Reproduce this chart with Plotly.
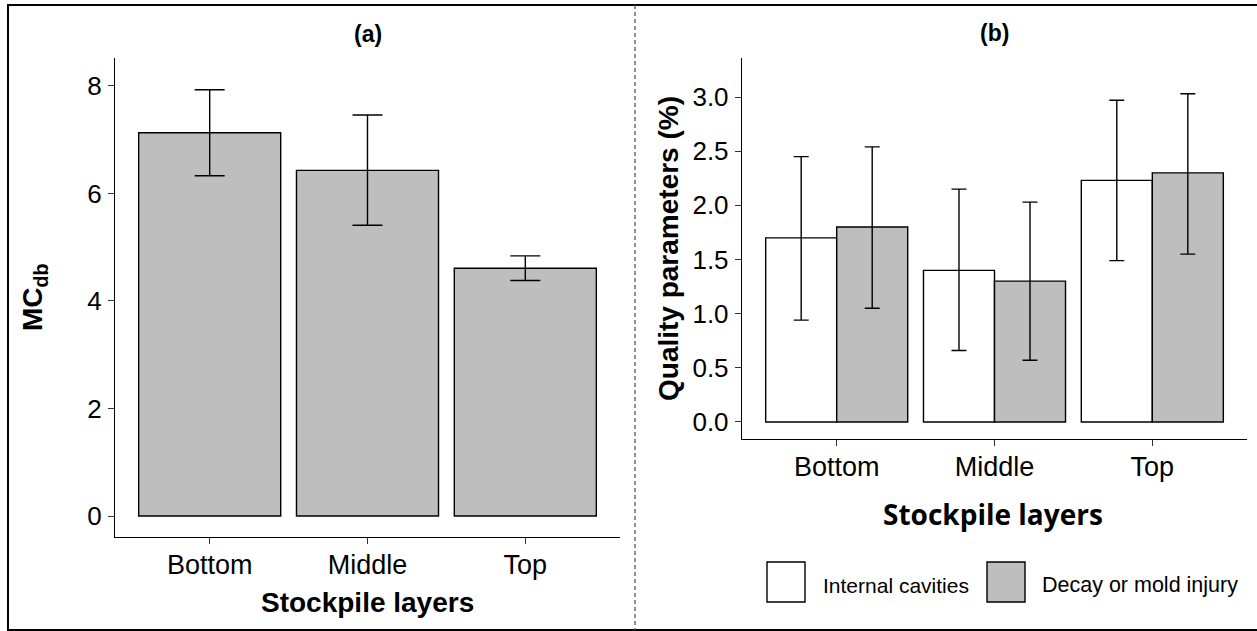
import plotly.graph_objects as go

# Stockpile layers shared by both panels
layers = ["Bottom", "Middle", "Top"]

# Panel (a): moisture content (dry basis), mean with lower / upper error limits
mc_mean = [7.13, 6.43, 4.61]
mc_low = [6.33, 5.41, 4.38]
mc_high = [7.93, 7.46, 4.84]

# Panel (b): quality parameters (%), mean with lower / upper error limits
quality_names = ["Internal cavities", "Decay or mold injury"]
cav_mean = [1.70, 1.40, 2.23]
cav_low = [0.94, 0.66, 1.49]
cav_high = [2.45, 2.15, 2.97]
decay_mean = [1.80, 1.30, 2.30]
decay_low = [1.05, 0.57, 1.55]
decay_high = [2.54, 2.03, 3.03]

W, H = 1257, 631
GREY = "#BEBEBE"
BASE_FONT = "Arial, Liberation Sans, sans-serif"


def px(x):
    return x / W


def py(y):
    return 1 - y / H


def err(mean, low, high):
    plus = [h - m for m, h in zip(mean, high)]
    minus = [m - l for m, l in zip(mean, low)]
    return plus, minus


fig = go.Figure()

# ---- panel (a)
p, m = err(mc_mean, mc_low, mc_high)
fig.add_trace(go.Bar(
    x=layers, y=mc_mean, width=0.9,
    marker=dict(color=GREY, line=dict(color="black", width=1.4)),
    error_y=dict(type="data", symmetric=False, array=p, arrayminus=m,
                 color="black", thickness=1.4, width=15),
    xaxis="x", yaxis="y", showlegend=False,
))

# ---- panel (b)
p1, m1 = err(cav_mean, cav_low, cav_high)
p2, m2 = err(decay_mean, decay_low, decay_high)
fig.add_trace(go.Bar(
    x=layers, y=cav_mean, name=quality_names[0], width=0.45, offset=-0.45,
    marker=dict(color="white", line=dict(color="black", width=1.4)),
    error_y=dict(type="data", symmetric=False, array=p1, arrayminus=m1,
                 color="black", thickness=1.4, width=7.5),
    xaxis="x2", yaxis="y2", showlegend=False,
))
fig.add_trace(go.Bar(
    x=layers, y=decay_mean, name=quality_names[1], width=0.45, offset=0,
    marker=dict(color=GREY, line=dict(color="black", width=1.4)),
    error_y=dict(type="data", symmetric=False, array=p2, arrayminus=m2,
                 color="black", thickness=1.4, width=7.5),
    xaxis="x2", yaxis="y2", showlegend=False,
))

axis_common = dict(
    showline=True, linecolor="black", linewidth=1.4,
    ticks="outside", ticklen=6, tickwidth=1.3, tickcolor="#333333",
    showgrid=False, zeroline=False, mirror=False,
)

fig.update_layout(
    width=W, height=H,
    margin=dict(l=0, r=0, t=0, b=0),
    paper_bgcolor="white", plot_bgcolor="white",
    barmode="overlay",
    showlegend=False,
    font=dict(family=BASE_FONT, color="black"),
    xaxis=dict(domain=[px(115), px(620)], anchor="y", type="category",
               range=[-0.6, 2.6], tickfont=dict(size=27), ticklabelstandoff=-3,
               **axis_common),
    yaxis=dict(domain=[py(537), py(58)], anchor="x", range=[-0.39, 8.52],
               tickvals=[0, 2, 4, 6, 8], tickfont=dict(size=26),
               ticklabelstandoff=1, **axis_common),
    xaxis2=dict(domain=[px(742), px(1247)], anchor="y2", type="category",
                range=[-0.6, 2.6], tickfont=dict(size=27), ticklabelstandoff=-3,
                **axis_common),
    yaxis2=dict(domain=[py(439), py(58)], anchor="x2", range=[-0.157, 3.36],
                tickvals=[0, 0.5, 1, 1.5, 2, 2.5, 3], tickformat=".1f",
                tickfont=dict(size=26), ticklabelstandoff=1, **axis_common),
)

annotations = [
    dict(text="<b>(a)</b>", x=px(368), y=py(34), font=dict(size=23)),
    dict(text="<b>(b)</b>", x=px(994), y=py(33), font=dict(size=23)),
    dict(text="<b>MC<sub>db</sub></b>", x=px(35), y=py(297), textangle=-90,
         font=dict(size=28)),
    dict(text="<b>Stockpile layers</b>", x=px(367.5), y=py(602),
         font=dict(size=28)),
    dict(text="<b>Quality parameters (%)</b>", x=px(669), y=py(248),
         textangle=-90, font=dict(size=28)),
    dict(text="<b>Stockpile layers</b>", x=px(993), y=py(514),
         font=dict(size=28, family="Open Sans, Lato, sans-serif")),
    dict(text=quality_names[0], x=px(821), y=py(585), xanchor="left",
         font=dict(size=21)),
    dict(text=quality_names[1], x=px(1040), y=py(585), xanchor="left",
         font=dict(size=21.5)),
]
for a in annotations:
    a.setdefault("xanchor", "center")
    a.update(xref="paper", yref="paper", yanchor="middle", showarrow=False)
fig.update_layout(annotations=annotations)

shapes = [
    # legend keys
    dict(type="rect", x0=px(767), x1=px(805), y0=py(602), y1=py(562),
         fillcolor="white", line=dict(color="black", width=1.4)),
    dict(type="rect", x0=px(987), x1=px(1025), y0=py(602), y1=py(562),
         fillcolor=GREY, line=dict(color="black", width=1.4)),
    # outer frame (left, top, bottom)
    dict(type="line", x0=px(8), x1=px(8), y0=py(5), y1=py(630),
         line=dict(color="black", width=2)),
    dict(type="line", x0=px(7), x1=1.01, y0=py(5), y1=py(5),
         line=dict(color="black", width=2)),
    dict(type="line", x0=px(7), x1=1.01, y0=py(630), y1=py(630),
         line=dict(color="black", width=2)),
    # dashed separator between panels
    dict(type="line", x0=px(635), x1=px(635), y0=py(5), y1=py(630),
         line=dict(color="#555555", width=1.3, dash="4px,3px")),
]
for s in shapes:
    s.update(xref="paper", yref="paper")
fig.update_layout(shapes=shapes)

fig.write_html("out.html")
